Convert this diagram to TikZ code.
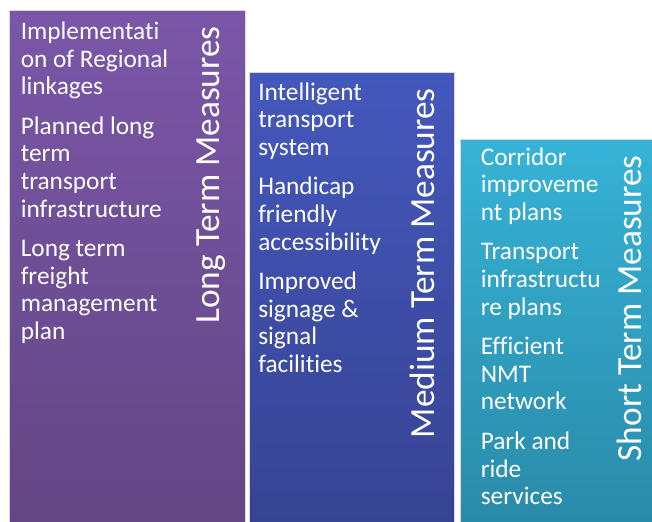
\documentclass[tikz,border=0pt]{standalone}
\usepackage{fontspec}
\setmainfont{Carlito}[Ligatures=NoCommon]
\usetikzlibrary{positioning}
\definecolor{longtop}{HTML}{7A56A8}
\definecolor{longbot}{HTML}{634684}
\definecolor{medtop}{HTML}{4457BC}
\definecolor{medbot}{HTML}{374493}
\definecolor{shorttop}{HTML}{36B3D7}
\definecolor{shortbot}{HTML}{2A8AA8}
\tikzstyle{column} = [rectangle, draw=white!85!black, line width=1.1pt, anchor=north west, ]
\tikzstyle{items} = [text=white, align=left, inner sep=0pt, anchor=base west, font=\fontsize{19}{20.7}\selectfont]
\tikzstyle{heading} = [text=white, inner sep=0pt, rotate=90, anchor=base east, font=\fontsize{26.5}{30}\selectfont]

\begin{document}
\begin{tikzpicture}[
    x=0.75pt,
    y=-0.75pt
]
    \useasboundingbox (0,0) rectangle (652,521);
    \clip (0,0) rectangle (652,521);

    \node[column, top color=longtop, bottom color=longbot,
        minimum width=177pt, minimum height=387pt] (long) at (9,10) {};
    \node[column, top color=medtop, bottom color=medbot,
        minimum width=153.75pt, minimum height=340pt] (medium) at (249,72) {};
    \node[column, top color=shorttop, bottom color=shortbot,
        minimum width=147pt, minimum height=290pt] (short) at (460,139) {};

    \node[heading] (longtitle) at (219,26) {Long Term Measures};
    \node[heading] (medtitle) at (434,88) {Medium Term Measures};
    \node[heading] (shorttitle) at (641,155) {Short Term Measures};

    % base anchor sits on the last line
    \node[items] (longlist) at (20.5,339.5) {Implementati\\on of Regional\\linkages\\[9pt]%
        Planned long\\term\\transport\\infrastructure\\[9pt]%
        Long term\\freight\\management\\plan};
    \node[items] (medlist) at (258,372.4) {Intelligent\\transport\\system\\[9pt]%
        Handicap\\friendly\\accessibility\\[9pt]%
        Improved\\signage \&\\signal\\facilities};
    \node[items] (shortlist) at (480.5,504.6) {Corridor\\improveme\\nt plans\\[9pt]%
        Transport\\infrastructu\\re plans\\[9pt]%
        Efficient\\NMT\\network\\[9pt]%
        Park and\\ride\\services};
\end{tikzpicture}
\end{document}
